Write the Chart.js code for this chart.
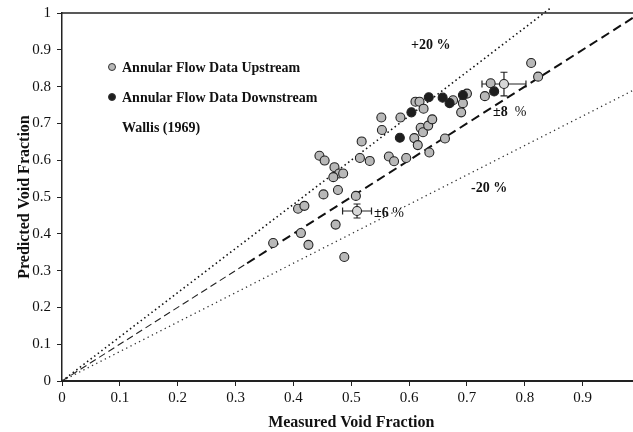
<!DOCTYPE html>
<html><head><meta charset="utf-8">
<script src="https://cdn.jsdelivr.net/npm/chart.js@4/dist/chart.umd.min.js"></script>
<style>html,body{margin:0;padding:0;overflow:hidden;background:#fff;width:633px;height:432px}</style>
</head><body>
<canvas id="c" width="650" height="432" style="display:block;width:650px;height:432px"></canvas>
<script>
// ---- data ----
const upstreamX = [0.365,0.408,0.419,0.413,0.426,0.445,0.454,0.452,0.471,0.479,0.486,0.469,0.477,0.473,0.488,0.508,0.515,0.518,0.532,0.552,0.553,0.565,0.574,0.585,0.595,0.609,0.611,0.618,0.615,0.620,0.624,0.625,0.633,0.640,0.635,0.662,0.676,0.690,0.693,0.700,0.731,0.741,0.811,0.823];
const upstreamY = [0.375,0.468,0.476,0.402,0.370,0.612,0.599,0.507,0.581,0.564,0.564,0.554,0.519,0.425,0.337,0.503,0.606,0.651,0.598,0.716,0.682,0.610,0.597,0.716,0.606,0.660,0.759,0.759,0.641,0.688,0.676,0.740,0.694,0.711,0.621,0.659,0.763,0.730,0.755,0.781,0.774,0.809,0.864,0.827];
const downstreamX = [0.584,0.604,0.634,0.658,0.670,0.693,0.747];
const downstreamY = [0.661,0.730,0.771,0.770,0.755,0.777,0.787];
const wallisX = [0.510,0.764];
const wallisY = [0.462,0.807];
const wallisXErr = [0.025,0.038];
const wallisYErr = [0.019,0.032];
const identityThinX = [0,0.32], identityThinY = [0,0.32];
const identityThickX = [0.32,1], identityThickY = [0.32,1];
const plus20X = [0,0.845], plus20Y = [0,1.014];
const minus20X = [0,1], minus20Y = [0,0.8];
const xTicks = [0,0.1,0.2,0.3,0.4,0.5,0.6,0.7,0.8,0.9];
const yTicks = [0,0.1,0.2,0.3,0.4,0.5,0.6,0.7,0.8,0.9,1];
const legendLabels = ['Annular Flow Data Upstream','Annular Flow Data Downstream','Wallis (1969)'];

const pts = (xs, ys) => xs.map((x, i) => ({x, y: ys[i]}));
const SERIF = "'Liberation Serif', 'Times New Roman', serif";

const deco = {
  id: 'deco',
  beforeDatasetsDraw(chart) {
    const {ctx, scales: {x, y}} = chart;
    ctx.save();
    ctx.strokeStyle = '#222'; ctx.lineWidth = 1.2;
    wallisX.forEach((vx, i) => {
      const px = x.getPixelForValue(vx), py = y.getPixelForValue(wallisY[i]);
      const x0 = x.getPixelForValue(vx - wallisXErr[i]), x1 = x.getPixelForValue(vx + wallisXErr[i]);
      const y0 = y.getPixelForValue(wallisY[i] - wallisYErr[i]), y1 = y.getPixelForValue(wallisY[i] + wallisYErr[i]);
      ctx.beginPath();
      ctx.moveTo(x0, py); ctx.lineTo(x1, py);
      ctx.moveTo(x0, py - 3.5); ctx.lineTo(x0, py + 3.5);
      ctx.moveTo(x1, py - 3.5); ctx.lineTo(x1, py + 3.5);
      ctx.moveTo(px, y0); ctx.lineTo(px, y1);
      ctx.moveTo(px - 3.5, y0); ctx.lineTo(px + 3.5, y0);
      ctx.moveTo(px - 3.5, y1); ctx.lineTo(px + 3.5, y1);
      ctx.stroke();
    });
    ctx.restore();
  },
  afterDraw(chart) {
    const {ctx, chartArea: a} = chart;
    ctx.save();
    ctx.strokeStyle = '#222'; ctx.lineWidth = 1.5;
    ctx.beginPath(); ctx.moveTo(a.left, a.top); ctx.lineTo(a.right + 10, a.top); ctx.stroke();
    const fills = ['#b8b8b8', '#1e1e1e', null];
    ctx.textBaseline = 'middle'; ctx.textAlign = 'left';
    ctx.font = 'bold 14px ' + SERIF; ctx.fillStyle = '#111';
    legendLabels.forEach((t, i) => {
      const ly = a.top + 54 + i * 30;
      if (fills[i]) {
        ctx.beginPath(); ctx.arc(a.left + 50, ly, 3.5, 0, Math.PI * 2);
        ctx.fillStyle = fills[i]; ctx.fill();
        ctx.lineWidth = 1; ctx.strokeStyle = '#333'; ctx.stroke();
      }
      ctx.fillStyle = '#111';
      ctx.fillText(t, a.left + 60, ly + 1);
    });
    const txt = (parts, px, py) => {
      let cx = px;
      parts.forEach(([s, f]) => { ctx.font = f; ctx.fillText(s, cx, py); cx += ctx.measureText(s).width; });
    };
    const B = 'bold 14px ' + SERIF, N = '14px ' + SERIF;
    ctx.fillStyle = '#111';
    txt([['+20 %', B]], 411, 45);
    txt([['±8', B], ['  %', N]], 493, 112);
    txt([['-20 %', B]], 471, 188);
    txt([['±6', B], [' %', N]], 374, 213);
    ctx.restore();
  }
};

new Chart(document.getElementById('c'), {
  type: 'scatter',
  data: {
    datasets: [
      {data: pts(wallisX, wallisY), pointRadius: 4.5, pointBackgroundColor: '#d8d8d8', pointBorderColor: '#222', pointBorderWidth: 1.1},
      {data: pts(downstreamX, downstreamY), pointRadius: 4.5, pointBackgroundColor: '#1e1e1e', pointBorderColor: '#222', pointBorderWidth: 1.1},
      {data: pts(upstreamX, upstreamY), pointRadius: 4.5, pointBackgroundColor: '#b8b8b8', pointBorderColor: '#222', pointBorderWidth: 1.1},
      {data: pts(identityThickX, identityThickY), showLine: true, pointRadius: 0, borderColor: '#111', borderWidth: 2, borderDash: [9, 5]},
      {data: pts(identityThinX, identityThinY), showLine: true, pointRadius: 0, borderColor: '#222', borderWidth: 1.1, borderDash: [7, 4]},
      {data: pts(plus20X, plus20Y), showLine: true, pointRadius: 0, borderColor: '#111', borderWidth: 1.6, borderDash: [1.5, 3], clip: false},
      {data: pts(minus20X, minus20Y), showLine: true, pointRadius: 0, borderColor: '#333', borderWidth: 1.3, borderDash: [1.3, 3.5]}
    ]
  },
  options: {
    responsive: false, devicePixelRatio: 1, animation: false,
    layout: {padding: {left: 0, right: 9.5, top: 13, bottom: 0}},
    plugins: {legend: {display: false}, tooltip: {enabled: false}},
    scales: {
      x: {
        type: 'linear', min: 0, max: 1,
        afterBuildTicks: s => { s.ticks = xTicks.map(v => ({value: v})); },
        afterFit: s => { s.height = 51; s.paddingLeft = 0; s.paddingRight = 0; },
        grid: {drawOnChartArea: false, drawTicks: true, tickLength: 5, color: '#222', tickWidth: 1},
        border: {display: true, color: '#222', width: 2},
        ticks: {color: '#111', font: {family: SERIF, size: 15}, padding: 3, maxRotation: 0, callback: v => String(v)},
        title: {display: true, text: 'Measured Void Fraction', color: '#111', font: {family: SERIF, size: 16, weight: 'bold'}, padding: {top: 0, bottom: 0}}
      },
      y: {
        type: 'linear', min: 0, max: 1,
        afterBuildTicks: s => { s.ticks = yTicks.map(v => ({value: v})); },
        afterFit: s => { s.width = 62; s.paddingTop = 0; s.paddingBottom = 0; },
        grid: {drawOnChartArea: false, drawTicks: true, tickLength: 5, color: '#222', tickWidth: 1},
        border: {display: true, color: '#222', width: 1.5},
        ticks: {color: '#111', font: {family: SERIF, size: 15}, padding: 6, callback: v => String(v)},
        title: {display: true, text: 'Predicted Void Fraction', color: '#111', font: {family: SERIF, size: 16, weight: 'bold'}, padding: {top: 15, bottom: 0}}
      }
    }
  },
  plugins: [deco]
});
</script>
</body></html>
